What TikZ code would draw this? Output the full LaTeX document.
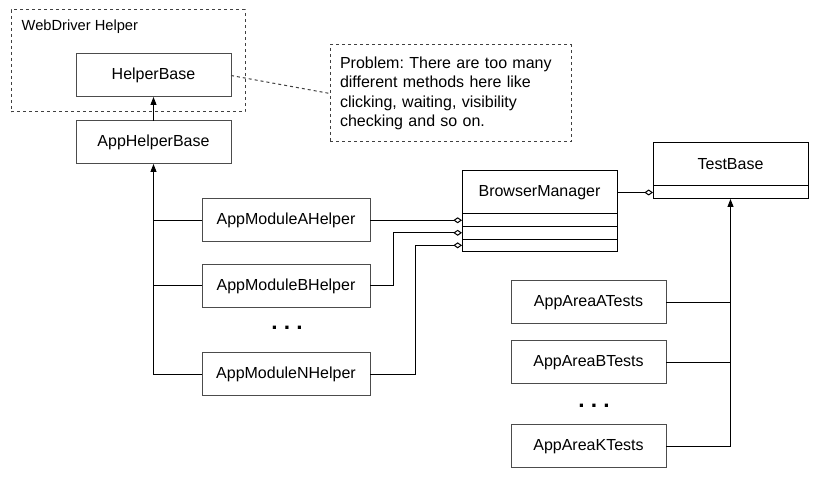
\documentclass[tikz,border=0pt]{standalone}
\usepackage{fontspec}
\setmainfont{Liberation Sans}
\usetikzlibrary{arrows.meta}

\begin{document}
\frenchspacing
\begin{tikzpicture}[x=0.75pt, y=-0.75pt,
	font=\fontsize{12}{14}\selectfont,
	classbox/.style={rectangle, text centered, draw=black!70, line width=0.75pt, minimum height=32.25pt, minimum width=116.25pt, inner sep=0pt, outer sep=0pt},
	umlrow/.style={rectangle, draw=black, line width=0.75pt, minimum width=116.25pt, inner sep=0pt, outer sep=0pt},
	dashbox/.style={rectangle, draw=black!75, line width=0.75pt, dash pattern=on 2.25pt off 2.25pt, inner sep=0pt, outer sep=0pt},
	link/.style={draw=black, line width=0.75pt},
	inherit/.style={link, -{Triangle[length=6pt, width=4.5pt]}},
	aggr/.style={link, -{Diamond[open, fill=white, length=6.5pt, width=4.5pt]}},
	dotsnode/.style={font=\fontsize{17}{19}\bfseries}]
	\useasboundingbox (0,0) rectangle (819,481);

	% webdriver group and the note
	\node[dashbox, minimum width=175.5pt, minimum height=76.5pt] (webdriver) at (128,61) {};
	\node[anchor=west] (webdriverlabel) at (17,27) {\fontsize{11}{13}\selectfont WebDriver Helper};
	\node[classbox] (helperbase) at (153.5,75.5) {HelperBase};
	\node[classbox] (apphelperbase) at (153.5,142.5) {AppHelperBase};
	\node[dashbox, minimum width=180.75pt, minimum height=72.75pt, text width=165.75pt, align=left, inner xsep=7.5pt, font=\fontsize{12}{14.5}\selectfont] (note) at (450.5,93.5) {Problem: There are too many\\different methods here like\\clicking, waiting, visibility\\checking and so on.};
	\draw[link, draw=black!75, dash pattern=on 2.25pt off 2.25pt] (helperbase.east) -- (note.west);
	\draw[inherit] (apphelperbase.north) -- (helperbase.south);

	% module helpers
	\node[classbox, minimum width=126pt] (appmodulea) at (286,220.5) {AppModuleAHelper};
	\node[classbox, minimum width=126pt] (appmoduleb) at (286,286) {AppModuleBHelper};
	\node[dotsnode] (dotsmodules) at (287,328) {. . .};
	\node[classbox, minimum width=126pt] (appmodulen) at (286,374.5) {AppModuleNHelper};
	\draw[inherit] (appmodulen.west) -| (apphelperbase.south);
	\draw[link] (appmodulea.west) -- (appmodulea.west -| apphelperbase.south);
	\draw[link] (appmoduleb.west) -- (appmoduleb.west -| apphelperbase.south);

	% browser manager
	\node[umlrow, minimum height=32.25pt] (browsermanager) at (539.5,192.5) {BrowserManager};
	\node[umlrow, minimum height=9.4pt, below=0pt] (bmrowa) at (browsermanager.south) {};
	\node[umlrow, minimum height=9.4pt, below=0pt] (bmrowb) at (bmrowa.south) {};
	\node[umlrow, minimum height=9.4pt, below=0pt] (bmrowc) at (bmrowb.south) {};
	\draw[aggr] (appmodulea.east |- bmrowa.west) -- (bmrowa.west);
	\draw[aggr] (appmoduleb.east) -- ++(23,0) |- (bmrowb.west);
	\draw[aggr] (appmodulen.east) -- ++(45,0) |- (bmrowc.west);

	% tests
	\node[umlrow, minimum height=32.25pt] (testbase) at (730.5,164.5) {TestBase};
	\node[umlrow, minimum height=9.75pt, below=0pt] (testrow) at (testbase.south) {};
	\draw[aggr] (browsermanager.east) -- (browsermanager.east -| testrow.west);
	\node[classbox] (appareaa) at (588.5,302.5) {AppAreaATests};
	\node[classbox] (appareab) at (588.5,362.5) {AppAreaBTests};
	\node[dotsnode] (dotsareas) at (594,406) {. . .};
	\node[classbox] (appareak) at (588.5,446.5) {AppAreaKTests};
	\draw[inherit] (appareak.east) -| (testrow.south);
	\draw[link] (appareaa.east) -- (appareaa.east -| testrow.south);
	\draw[link] (appareab.east) -- (appareab.east -| testrow.south);
\end{tikzpicture}
\end{document}
